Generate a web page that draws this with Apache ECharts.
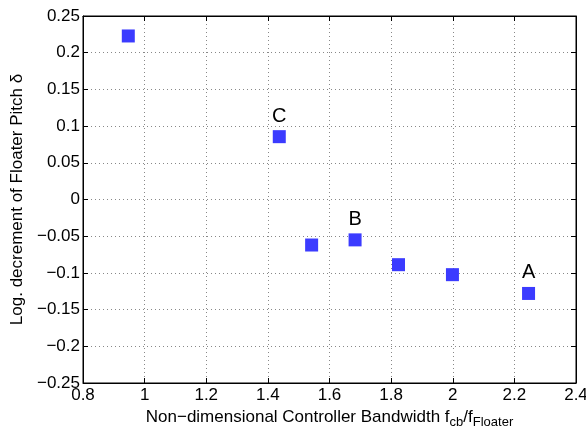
<!DOCTYPE html>
<html><head><meta charset="utf-8">
<script src="https://cdn.jsdelivr.net/npm/echarts@6/dist/echarts.min.js"></script>
<style>html,body{margin:0;padding:0;background:#fff}#c{width:586px;height:430px}</style>
</head><body><div id="c"></div>
<script>
const xValues = [0.947, 1.437, 1.542, 1.683, 1.824, 1.999, 2.246];
const yValues = [0.2228, 0.0856, -0.062, -0.055, -0.0888, -0.1024, -0.128];
const pointLabels = ['', 'C', '', 'B', '', '', 'A'];
const xTicks = [0.8, 1, 1.2, 1.4, 1.6, 1.8, 2, 2.2, 2.4];
const yTicks = [-0.25, -0.2, -0.15, -0.1, -0.05, 0, 0.05, 0.1, 0.15, 0.2, 0.25];

const FONT = 'Liberation Sans';
const fmt = v => {
  const r = Math.round(v * 100) / 100;
  return String(r).replace('-', '\u2212');
};
const chart = echarts.init(document.getElementById('c'));
const axBase = {
  axisLine: {show: true, onZero: false, lineStyle: {color: '#000', width: 1}},
  axisTick: {show: true, inside: true, length: 5, lineStyle: {color: '#000'}},
};
chart.setOption({
  animation: false,
  backgroundColor: '#fff',
  grid: {left: 83, right: 10, top: 16, bottom: 47, show: true, borderColor: '#000', borderWidth: 1,
    outerBoundsMode: 'none', containLabel: false},
  xAxis: [{
    type: 'value', min: 0.8, max: 2.4, interval: 0.2, position: 'bottom',
    ...axBase,
    axisLabel: {color: '#000', fontFamily: FONT, fontSize: 17, margin: 4, formatter: fmt},
    splitLine: {show: true, lineStyle: {type: [1, 3], color: '#888'}},
    name: 'Non\u2212dimensional Controller Bandwidth f{sub|cb}/f{sub|Floater}',
    nameLocation: 'middle', nameGap: 22,
    nameTextStyle: {color: '#000', fontFamily: FONT, fontSize: 17,
      rich: {sub: {fontFamily: FONT, fontSize: 13, color: '#000', verticalAlign: 'bottom', padding: [11, 0, 0, 0]}}}
  }, {
    type: 'value', min: 0.8, max: 2.4, interval: 0.2, position: 'top',
    ...axBase, axisLabel: {show: false}, splitLine: {show: false}
  }],
  yAxis: [{
    type: 'value', min: -0.25, max: 0.25, interval: 0.05, position: 'left',
    ...axBase,
    axisLabel: {color: '#000', fontFamily: FONT, fontSize: 17, margin: 3, formatter: fmt},
    splitLine: {show: true, lineStyle: {type: [1, 3], color: '#888'}},
    name: 'Log. decrement of Floater Pitch \u03b4',
    nameLocation: 'middle', nameGap: 51,
    nameTextStyle: {color: '#000', fontFamily: FONT, fontSize: 17}
  }, {
    type: 'value', min: -0.25, max: 0.25, interval: 0.05, position: 'right',
    ...axBase, axisLabel: {show: false}, splitLine: {show: false}
  }],
  series: [{
    type: 'scatter',
    symbol: 'rect', symbolSize: 13,
    itemStyle: {color: '#3b3bff', opacity: 1},
    data: xValues.map((x, i) => [x, yValues[i]]),
    label: {show: true, position: 'top', distance: 4, color: '#000', fontFamily: FONT, fontSize: 20,
      formatter: p => pointLabels[p.dataIndex]}
  }]
});
</script></body></html>
